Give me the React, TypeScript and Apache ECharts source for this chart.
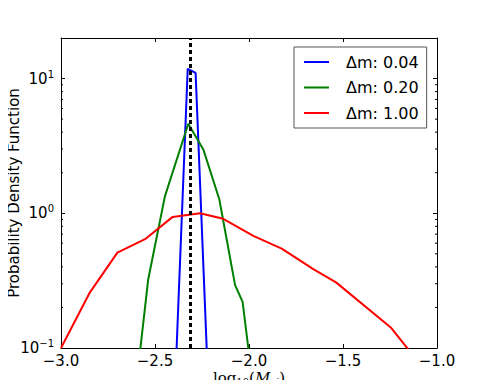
import React, { useEffect, useRef } from "react";
import * as echarts from "echarts";

const seriesNames = ["Δm: 0.04", "Δm: 0.20", "Δm: 1.00"];
const seriesColors = ["#0000ff", "#008000", "#ff0000"];

const blueX = [-2.40, -2.326, -2.284, -2.21];
const blueY = [0.03, 11.8, 11.0, 0.03];

const greenX = [-2.62, -2.536, -2.447, -2.323, -2.243, -2.158, -2.074, -2.034, -1.99];
const greenY = [0.03, 0.324, 1.34, 4.62, 2.98, 1.27, 0.293, 0.22, 0.07];

const redX = [-3.0, -2.846, -2.70, -2.553, -2.406, -2.261, -2.137, -1.977, -1.826, -1.658, -1.537, -1.246, -1.10];
const redY = [0.1, 0.259, 0.511, 0.642, 0.94, 1.0, 0.91, 0.68, 0.547, 0.385, 0.307, 0.142, 0.079];

const meanLine = -2.31;

const xMin = -3.0;
const xMax = -1.0;
const xStep = 0.5;
const yMin = 0.1;
const yMax = 20;
const minorTickValues = [0.2, 0.3, 0.4, 0.5, 0.6, 0.7, 0.8, 0.9, 2, 3, 4, 5, 6, 7, 8, 9];

const FONT = "DejaVu Sans";

function fmtX(v: number) {
  return v.toFixed(1).replace("-", "\u2212");
}

function fmtY(v: number) {
  const e = Math.round(Math.log10(v));
  return `{b|10}{s|${String(e).replace("-", "\u2212")}}`;
}

export default function App() {
  const ref = useRef<HTMLDivElement>(null);
  useEffect(() => {
    if (!ref.current) return;
    const chart = echarts.init(ref.current, null, { renderer: "svg" });
    const zip = (xs: number[], ys: number[]) => xs.map((x, i) => [x, ys[i]]);
    const xsData = [zip(blueX, blueY), zip(greenX, greenY), zip(redX, redY)];

    const axisLineStyle = { color: "#000", width: 1 };
    const commonX = {
      type: "value",
      min: xMin,
      max: xMax,
      interval: xStep,
      splitLine: { show: false },
      axisLine: { show: true, onZero: false, lineStyle: axisLineStyle },
      axisTick: { show: true, inside: true, length: 4, lineStyle: axisLineStyle },
    };
    const commonY = {
      type: "log",
      logBase: 10,
      min: yMin,
      max: yMax,
      interval: 1,
      splitLine: { show: false },
      axisLine: { show: true, lineStyle: axisLineStyle },
      axisTick: { show: true, inside: true, length: 4, lineStyle: axisLineStyle },
    };

    // legend icon: a 25px line sample followed by empty space (zero-length subpath widens its box)
    const legendIcon = "path://M0 0H25V2H0Z M37 2L37 2";

    const option: any = {
      animation: false,
      grid: { left: 61, right: 48, top: 38, bottom: 40, containLabel: false, outerBoundsMode: "none" },
      xAxis: [
        {
          ...commonX,
          position: "bottom",
          axisLabel: {
            show: true,
            formatter: fmtX,
            color: "#000",
            fontFamily: FONT,
            fontSize: 15,
            lineHeight: 15,
            margin: 5,
          },
          name: "{t|log}{sub|10}{t|(}{i|M}{sub|ej}{t|)}",
          nameLocation: "middle",
          nameGap: 21,
          nameMoveOverlap: false,
          nameTextStyle: {
            color: "#000",
            rich: {
              t: { fontFamily: "DejaVu Serif", fontSize: 15, lineHeight: 17, color: "#000" },
              i: { fontFamily: "DejaVu Serif", fontStyle: "italic", fontSize: 15, lineHeight: 17, color: "#000" },
              sub: { fontFamily: "DejaVu Serif", fontSize: 10, lineHeight: 10, color: "#000", padding: [7, 0, 0, 0] },
            },
          },
        },
        {
          ...commonX,
          position: "top",
          axisLabel: { show: false },
        },
      ],
      yAxis: [
        {
          ...commonY,
          position: "left",
          axisLabel: {
            show: true,
            formatter: fmtY,
            margin: 7,
            showMaxLabel: false,
            rich: {
              b: { fontFamily: FONT, fontSize: 15, color: "#000" },
              s: { fontFamily: FONT, fontSize: 10, color: "#000", padding: [0, 0, 9, 0] },
            },
          },
          name: "Probability Density Function",
          nameLocation: "middle",
          nameGap: 40,
          nameMoveOverlap: false,
          nameTextStyle: { color: "#000", fontFamily: FONT, fontSize: 15 },
        },
        {
          ...commonY,
          position: "right",
          axisLabel: { show: false },
        },
      ],
      legend: {
        show: true,
        orient: "vertical",
        left: 294,
        top: 47,
        data: seriesNames.map((n) => ({ name: n, icon: legendIcon })),
        padding: [7, 8, 7, 10],
        itemGap: 9.5,
        itemWidth: 37,
        itemHeight: 2,
        borderColor: "#555",
        borderWidth: 1,
        borderRadius: 0,
        backgroundColor: "#fff",
        textStyle: {
          fontFamily: FONT,
          fontSize: 16,
          color: "#000",
          lineHeight: 14,
        },
      },
      series: [
        ...seriesNames.map((name, i) => ({
          name,
          type: "line",
          data: xsData[i],
          showSymbol: false,
          symbol: "none",
          clip: true,
          color: seriesColors[i],
          lineStyle: { color: seriesColors[i], width: 2 },
          z: 2 + i,
          ...(i === 2
            ? {
                markLine: {
                  silent: true,
                  symbol: "none",
                  label: { show: false },
                  lineStyle: { color: "#000", type: [4, 3], width: 3 },
                  data: [{ xAxis: meanLine }],
                },
              }
            : {}),
        })),
        {
          type: "custom",
          name: "minorTicks",
          silent: true,
          data: minorTickValues.map((v) => [v]),
          renderItem: (params: any, api: any) => {
            const v = api.value(0);
            const l = api.coord([xMin, v]);
            const r = api.coord([xMax, v]);
            return {
              type: "group",
              children: [
                { type: "line", shape: { x1: l[0], y1: l[1], x2: l[0] + 2, y2: l[1] }, style: { stroke: "#000", lineWidth: 1 } },
                { type: "line", shape: { x1: r[0], y1: r[1], x2: r[0] - 2, y2: r[1] }, style: { stroke: "#000", lineWidth: 1 } },
              ],
            };
          },
          encode: { y: 0 },
          z: 10,
        },
      ],
    };
    chart.setOption(option);
    return () => chart.dispose();
  }, []);
  return <div ref={ref} style={{ width: 485, height: 388, margin: -8 }} />;
}
